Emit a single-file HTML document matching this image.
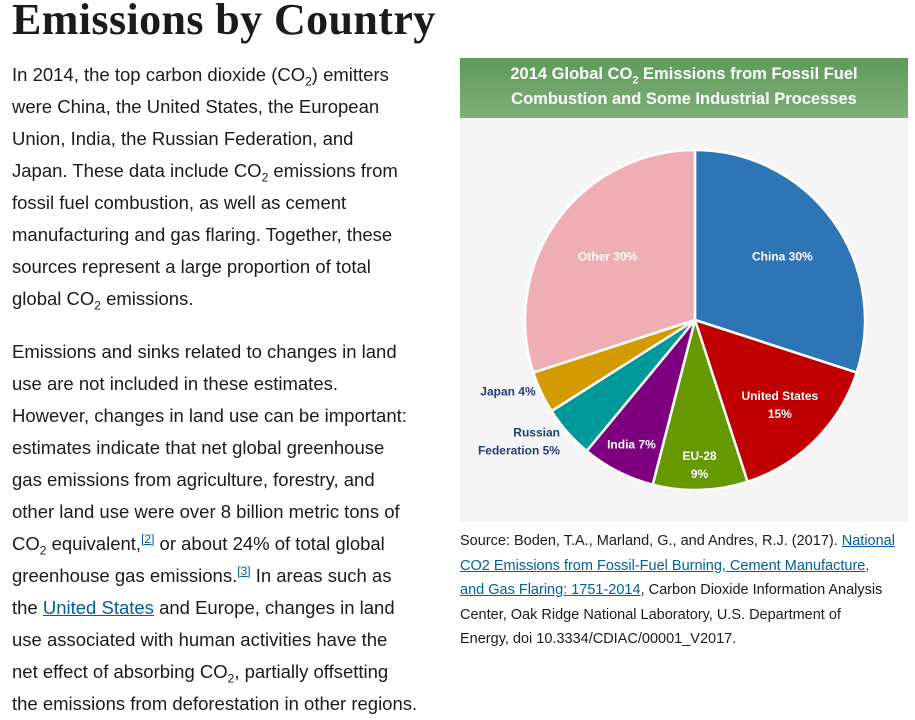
<!DOCTYPE html>
<html><head><meta charset="utf-8">
<style>
body{margin:0;background:#fff;width:915px;height:713px;overflow:hidden;position:relative;font-family:"Liberation Sans",sans-serif;color:#1b1b1b}
h1{position:absolute;left:12px;top:-6px;margin:0;font-family:"Liberation Serif",serif;font-weight:bold;font-size:44px;color:#1b1b1b;letter-spacing:0.4px}
.txt{position:absolute;left:12px;font-size:18.5px;line-height:32px;color:#1b1b1b;white-space:nowrap}
.txt sub{font-size:12px;line-height:0}
.txt sup{font-size:12px;line-height:0}
a{color:#005ea2;text-decoration:underline}
#panel{position:absolute;left:460px;top:58px;width:448px;height:464px;background:#f5f5f5}
#hdr{position:absolute;left:0;top:0;width:448px;height:60px;background:linear-gradient(#5e9a5a,#7fb07a);color:#fff;font-weight:bold;font-size:16.5px;text-align:center;line-height:25px;padding-top:4px;box-sizing:border-box}
#hdr sub{font-size:11px;line-height:0}
#cap{position:absolute;left:460px;top:529px;width:450px;font-size:14.5px;line-height:24.5px;color:#1b1b1b;white-space:nowrap}
</style></head><body>
<h1>Emissions by Country</h1>
<div class="txt" style="top:59px">
In 2014, the top carbon dioxide (CO<sub>2</sub>) emitters<br>were China, the United States, the European<br>Union, India, the Russian Federation, and<br>Japan. These data include CO<sub>2</sub> emissions from<br>fossil fuel combustion, as well as cement<br>manufacturing and gas flaring. Together, these<br>sources represent a large proportion of total<br>global CO<sub>2</sub> emissions.</div>
<div class="txt" style="top:336px">
Emissions and sinks related to changes in land<br>use are not included in these estimates.<br>However, changes in land use can be important:<br>estimates indicate that net global greenhouse<br>gas emissions from agriculture, forestry, and<br>other land use were over 8 billion metric tons of<br>CO<sub>2</sub> equivalent,<sup><a href="#">[2]</a></sup> or about 24% of total global<br>greenhouse gas emissions.<sup><a href="#">[3]</a></sup> In areas such as<br>the <a href="#">United States</a> and Europe, changes in land<br>use associated with human activities have the<br>net effect of absorbing CO<sub>2</sub>, partially offsetting<br>the emissions from deforestation in other regions.</div>
<div id="panel">
<div id="hdr">2014 Global CO<sub>2</sub> Emissions from Fossil Fuel<br>Combustion and Some Industrial Processes</div>
<svg id="pie" width="448" height="464" style="position:absolute;left:0;top:0"></svg>
</div>
<div id="cap">Source: Boden, T.A., Marland, G., and Andres, R.J. (2017). <a href="#">National<br>CO2 Emissions from Fossil-Fuel Burning, Cement Manufacture,<br>and Gas Flaring: 1751-2014</a>, Carbon Dioxide Information Analysis<br>Center, Oak Ridge National Laboratory, U.S. Department of<br>Energy, doi 10.3334/CDIAC/00001_V2017.</div>
<script>
const categories=["China","United States","EU-28","India","Russian Federation","Japan","Other"];
const values=[30,15,9,7,5,4,30];
const labelLines=[["China 30%"],["United States","15%"],["EU-28","9%"],["India 7%"],["Russian","Federation 5%"],["Japan 4%"],["Other 30%"]];
const colors=["#2e75b6","#c00000","#669900","#7f007f","#009999","#d49b00","#eeaeb3"];
const outside=[false,false,false,false,true,true,false];
const labelR=[108,120,145,140,196,196,108];
const labelDx=[0,0,0,0,4,10,0];
const labelDy=[0,0,0,0,-8,-12,0];
const svg=document.getElementById('pie');
const NS="http://www.w3.org/2000/svg";
const cx=235,cy=262,r=170;
const total=values.reduce((a,b)=>a+b,0);
function pt(frac,rad){const a=frac*2*Math.PI;return [cx+rad*Math.sin(a),cy-rad*Math.cos(a)];}
let cum=0;
values.forEach((v,i)=>{
  const s=cum/total,e=(cum+v)/total;cum+=v;
  const p0=pt(s,r),p1=pt(e,r);
  const large=(e-s)>0.5?1:0;
  const path=document.createElementNS(NS,'path');
  path.setAttribute('d',`M${cx},${cy}L${p0[0]},${p0[1]}A${r},${r} 0 ${large} 1 ${p1[0]},${p1[1]}Z`);
  path.setAttribute('fill',colors[i]);path.setAttribute('stroke','#fff');path.setAttribute('stroke-width','2.5');
  
  
  svg.appendChild(path);
  const m=(s+e)/2;
  const lp=pt(m,labelR[i]);
  const lx=lp[0]+labelDx[i]+(outside[i]?8:0);
  const t=document.createElementNS(NS,'text');
  t.setAttribute('text-anchor',outside[i]?'end':'middle');
  t.setAttribute('font-family','Liberation Sans, sans-serif');
  t.setAttribute('font-weight','bold');t.setAttribute('font-size','12');
  t.setAttribute('fill',outside[i]?'#1f3f7a':'#fff');
  const lines=labelLines[i];
  const y0=lp[1]+labelDy[i]+4-(lines.length-1)*9;
  lines.forEach((ln,k)=>{const ts=document.createElementNS(NS,'tspan');ts.setAttribute('x',lx);ts.setAttribute('y',y0+k*18);ts.textContent=ln;t.appendChild(ts);});
  
  
  svg.appendChild(t);
});
</script>
</body></html>
